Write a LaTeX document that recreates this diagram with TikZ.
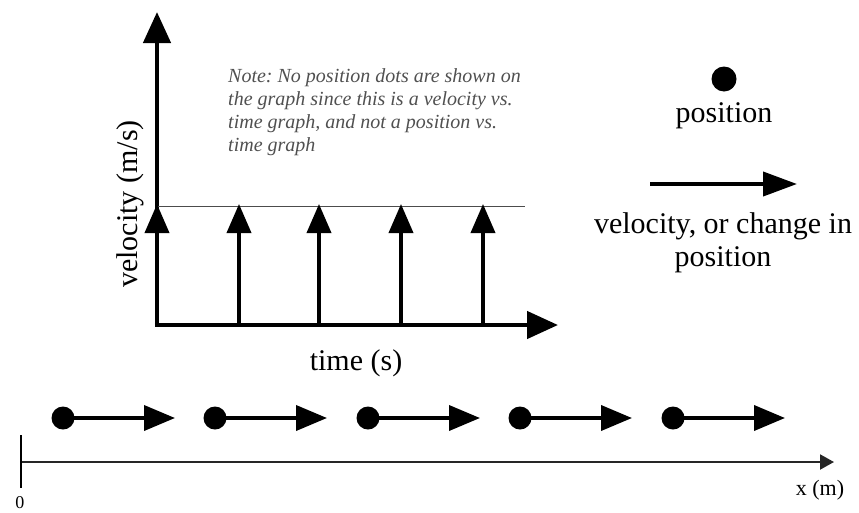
\documentclass[tikz,border=0pt]{standalone}
\usepackage{fontspec}
\setmainfont{Liberation Serif}
\usetikzlibrary{arrows.meta}
\definecolor{notegray}{HTML}{505050}
\frenchspacing
\begin{document}
\begin{tikzpicture}[x=1pt,y=-1pt,
  axisarrow/.style={line width=4.5pt, -{Triangle[length=31pt,width=27pt]}},
  varrow/.style={line width=3.8pt, -{Triangle[length=29pt,width=24pt]}},
  parrow/.style={line width=3.8pt, -{Triangle[length=31pt,width=25pt]}},
  larrow/.style={line width=4pt, -{Triangle[length=34pt,width=24pt]}},
  dot/.style={circle, fill=black, inner sep=0pt, minimum size=23pt},
  lbl/.style={font=\fontsize{30}{34}\selectfont, inner sep=0pt},
  notetxt/.style={font=\fontsize{20}{23}\selectfont\itshape, text=notegray, inner sep=0pt, anchor=base west},
]
\useasboundingbox (0,0) rectangle (859,512);

% graph axes
\coordinate (O) at (157,325);
\coordinate (ytop) at (157,12);
\coordinate (xend) at (558,325);
\coordinate (Ox) at (154.75,325);
\draw[axisarrow] (O) -- (ytop);
\draw[axisarrow] (Ox) -- (xend);

% constant-velocity reference line
\coordinate (h1) at (157,206);
\coordinate (h2) at (525,206);
\draw[line width=0.8pt, black!70] (h1) -- (h2);

% velocity arrows
\foreach \i/\x in {1/157,2/239,3/319,4/401,5/483}{
  \coordinate (vb\i) at (\x,325);
  \coordinate (vt\i) at (\x,204);
  \draw[varrow] (vb\i) -- (vt\i);
}

% labels of the graph
\node[lbl, rotate=90, anchor=base] (ylab) at (137,204) {velocity (m/s)};
\node[lbl, anchor=base] (xlab) at (356,370) {time (s)};

% note
\node[notetxt] (n1) at (228,82) {Note: No position dots are shown on};
\node[notetxt] (n2) at (228,105) {the graph since this is a velocity vs.};
\node[notetxt] (n3) at (228,128) {time graph, and not a position vs.};
\node[notetxt] (n4) at (228,151) {time graph};

% legend
\node[dot, minimum size=25pt] (ldot) at (724,79) {};
\node[lbl, anchor=base] (lpos) at (724,122) {position};
\coordinate (la1) at (650,184);
\coordinate (la2) at (797,184);
\draw[larrow] (la1) -- (la2);
\node[lbl, anchor=base] (lv1) at (723,233) {velocity, or change in};
\node[lbl, anchor=base] (lv2) at (723,266) {position};

% motion diagram
\foreach \i/\x in {1/63,2/215,3/368,4/520,5/673}{
  \node[dot] (d\i) at (\x,418) {};
  \coordinate (t\i) at (\x+112,418);
  \draw[parrow] (d\i.center) -- (t\i);
}

% position axis
\coordinate (a0) at (21,462);
\coordinate (aend) at (834,462);
\coordinate (tk1) at (21,435);
\coordinate (tk2) at (21,488);
\draw[line width=2pt, black!85, -{Triangle[length=14pt,width=15pt]}] (a0) -- (aend);
\draw[line width=1.6pt] (tk1) -- (tk2);
\node[font=\fontsize{18}{20}\selectfont, inner sep=0pt] (zero) at (20,503) {0};
\node[font=\fontsize{22}{24}\selectfont, inner sep=0pt] (xm) at (820,490) {x (m)};
\end{tikzpicture}
\end{document}
